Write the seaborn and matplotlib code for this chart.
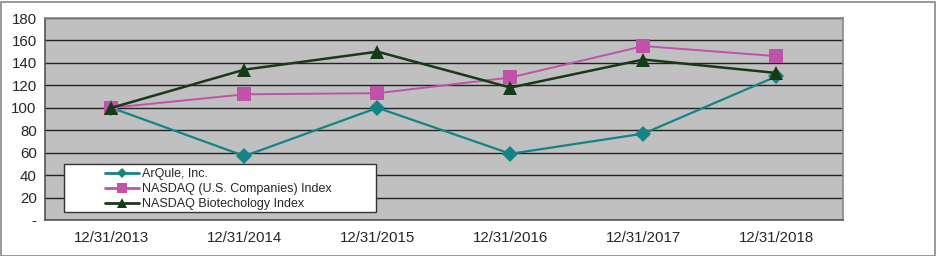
import matplotlib
matplotlib.use("Agg")
import matplotlib.pyplot as plt
import seaborn as sns
import pandas as pd
from matplotlib.patches import Rectangle

categories = ["12/31/2013", "12/31/2014", "12/31/2015", "12/31/2016", "12/31/2017", "12/31/2018"]
arqule = [100, 57, 100, 59, 77, 128]
nasdaq = [100, 112, 113, 127, 155, 146]
biotech = [100, 134, 150, 118, 143, 131]
series_names = ["ArQule, Inc.", "NASDAQ (U.S. Companies) Index", "NASDAQ Biotechology Index"]
y_ticks = [0, 20, 40, 60, 80, 100, 120, 140, 160, 180]
y_tick_labels = ["-", "20", "40", "60", "80", "100", "120", "140", "160", "180"]

colors = {series_names[0]: "#148484", series_names[1]: "#C052AA", series_names[2]: "#173A17"}
markers = {series_names[0]: "D", series_names[1]: "s", series_names[2]: "^"}
msizes = {series_names[0]: 8, series_names[1]: 9.5, series_names[2]: 10}
lws = {series_names[0]: 1.6, series_names[1]: 1.4, series_names[2]: 1.8}

rows = []
for name, vals in zip(series_names, [arqule, nasdaq, biotech]):
    for i, (c, v) in enumerate(zip(categories, vals)):
        rows.append({"pos": i, "date": c, "value": v, "series": name})
df = pd.DataFrame(rows)

sns.set_style("white")
plt.rcParams["font.family"] = ["Liberation Sans", "DejaVu Sans"]

fig = plt.figure(figsize=(9.37, 2.56), dpi=100)
ax = fig.add_axes([45/937, 36/256, (843-45)/937, (220-18)/256])
ax.set_facecolor("#C0C0C0")

for name in series_names:
    sub = df[df["series"] == name]
    sns.lineplot(data=sub, x="pos", y="value", ax=ax, color=colors[name],
                 marker=markers[name], markersize=msizes[name], markeredgewidth=0,
                 linewidth=lws[name], label=name, zorder=3)

ax.set_xlim(-0.5, len(categories) - 0.5)
ax.set_ylim(0, 180)
ax.set_yticks(y_ticks)
ax.set_yticklabels(y_tick_labels, fontsize=10.8)
ax.set_xticks(range(len(categories)))
ax.set_xticklabels(categories, fontsize=10.8)
ax.tick_params(axis="x", length=0, pad=8)
ax.set_xticks([i - 0.5 for i in range(len(categories) + 1)], minor=True)
ax.tick_params(axis="x", which="minor", length=5, color="#555555", width=1)
ax.tick_params(axis="y", length=4, color="#555555", width=1, pad=2)
ax.grid(axis="y", color="#222222", linewidth=1)
ax.set_axisbelow(True)
ax.set_xlabel("")
ax.set_ylabel("")
for s in ["left", "bottom"]:
    ax.spines[s].set_color("#555555")
    ax.spines[s].set_linewidth(1.2)
for s in ["top", "right"]:
    ax.spines[s].set_color("#888888")
    ax.spines[s].set_linewidth(1.2)

# legend frame drawn as a box, legend entries placed inside
box = Rectangle(((64-45)/798, (220-212)/202), (376-64)/798, (212-164)/202,
                transform=ax.transAxes, facecolor="white", edgecolor="#333333",
                linewidth=1, zorder=4)
ax.add_patch(box)
handles, labels = ax.get_legend_handles_labels()
leg = ax.legend(handles, labels, loc="upper left", bbox_to_anchor=((105-45)/798, (220-168)/202),
                fontsize=9, frameon=False, borderpad=0,
                labelspacing=0.25, handlelength=2.7, handletextpad=0.25,
                markerscale=0.7, borderaxespad=0)
leg.set_zorder(5)
for line in leg.get_lines():
    line.set_linewidth(2)

fig.patches.append(Rectangle((0.5/937, 0.5/256), 935/937, 254/256, transform=fig.transFigure,
                             fill=False, edgecolor="#888888", linewidth=1.2))
fig.savefig("out.png", dpi=100)
